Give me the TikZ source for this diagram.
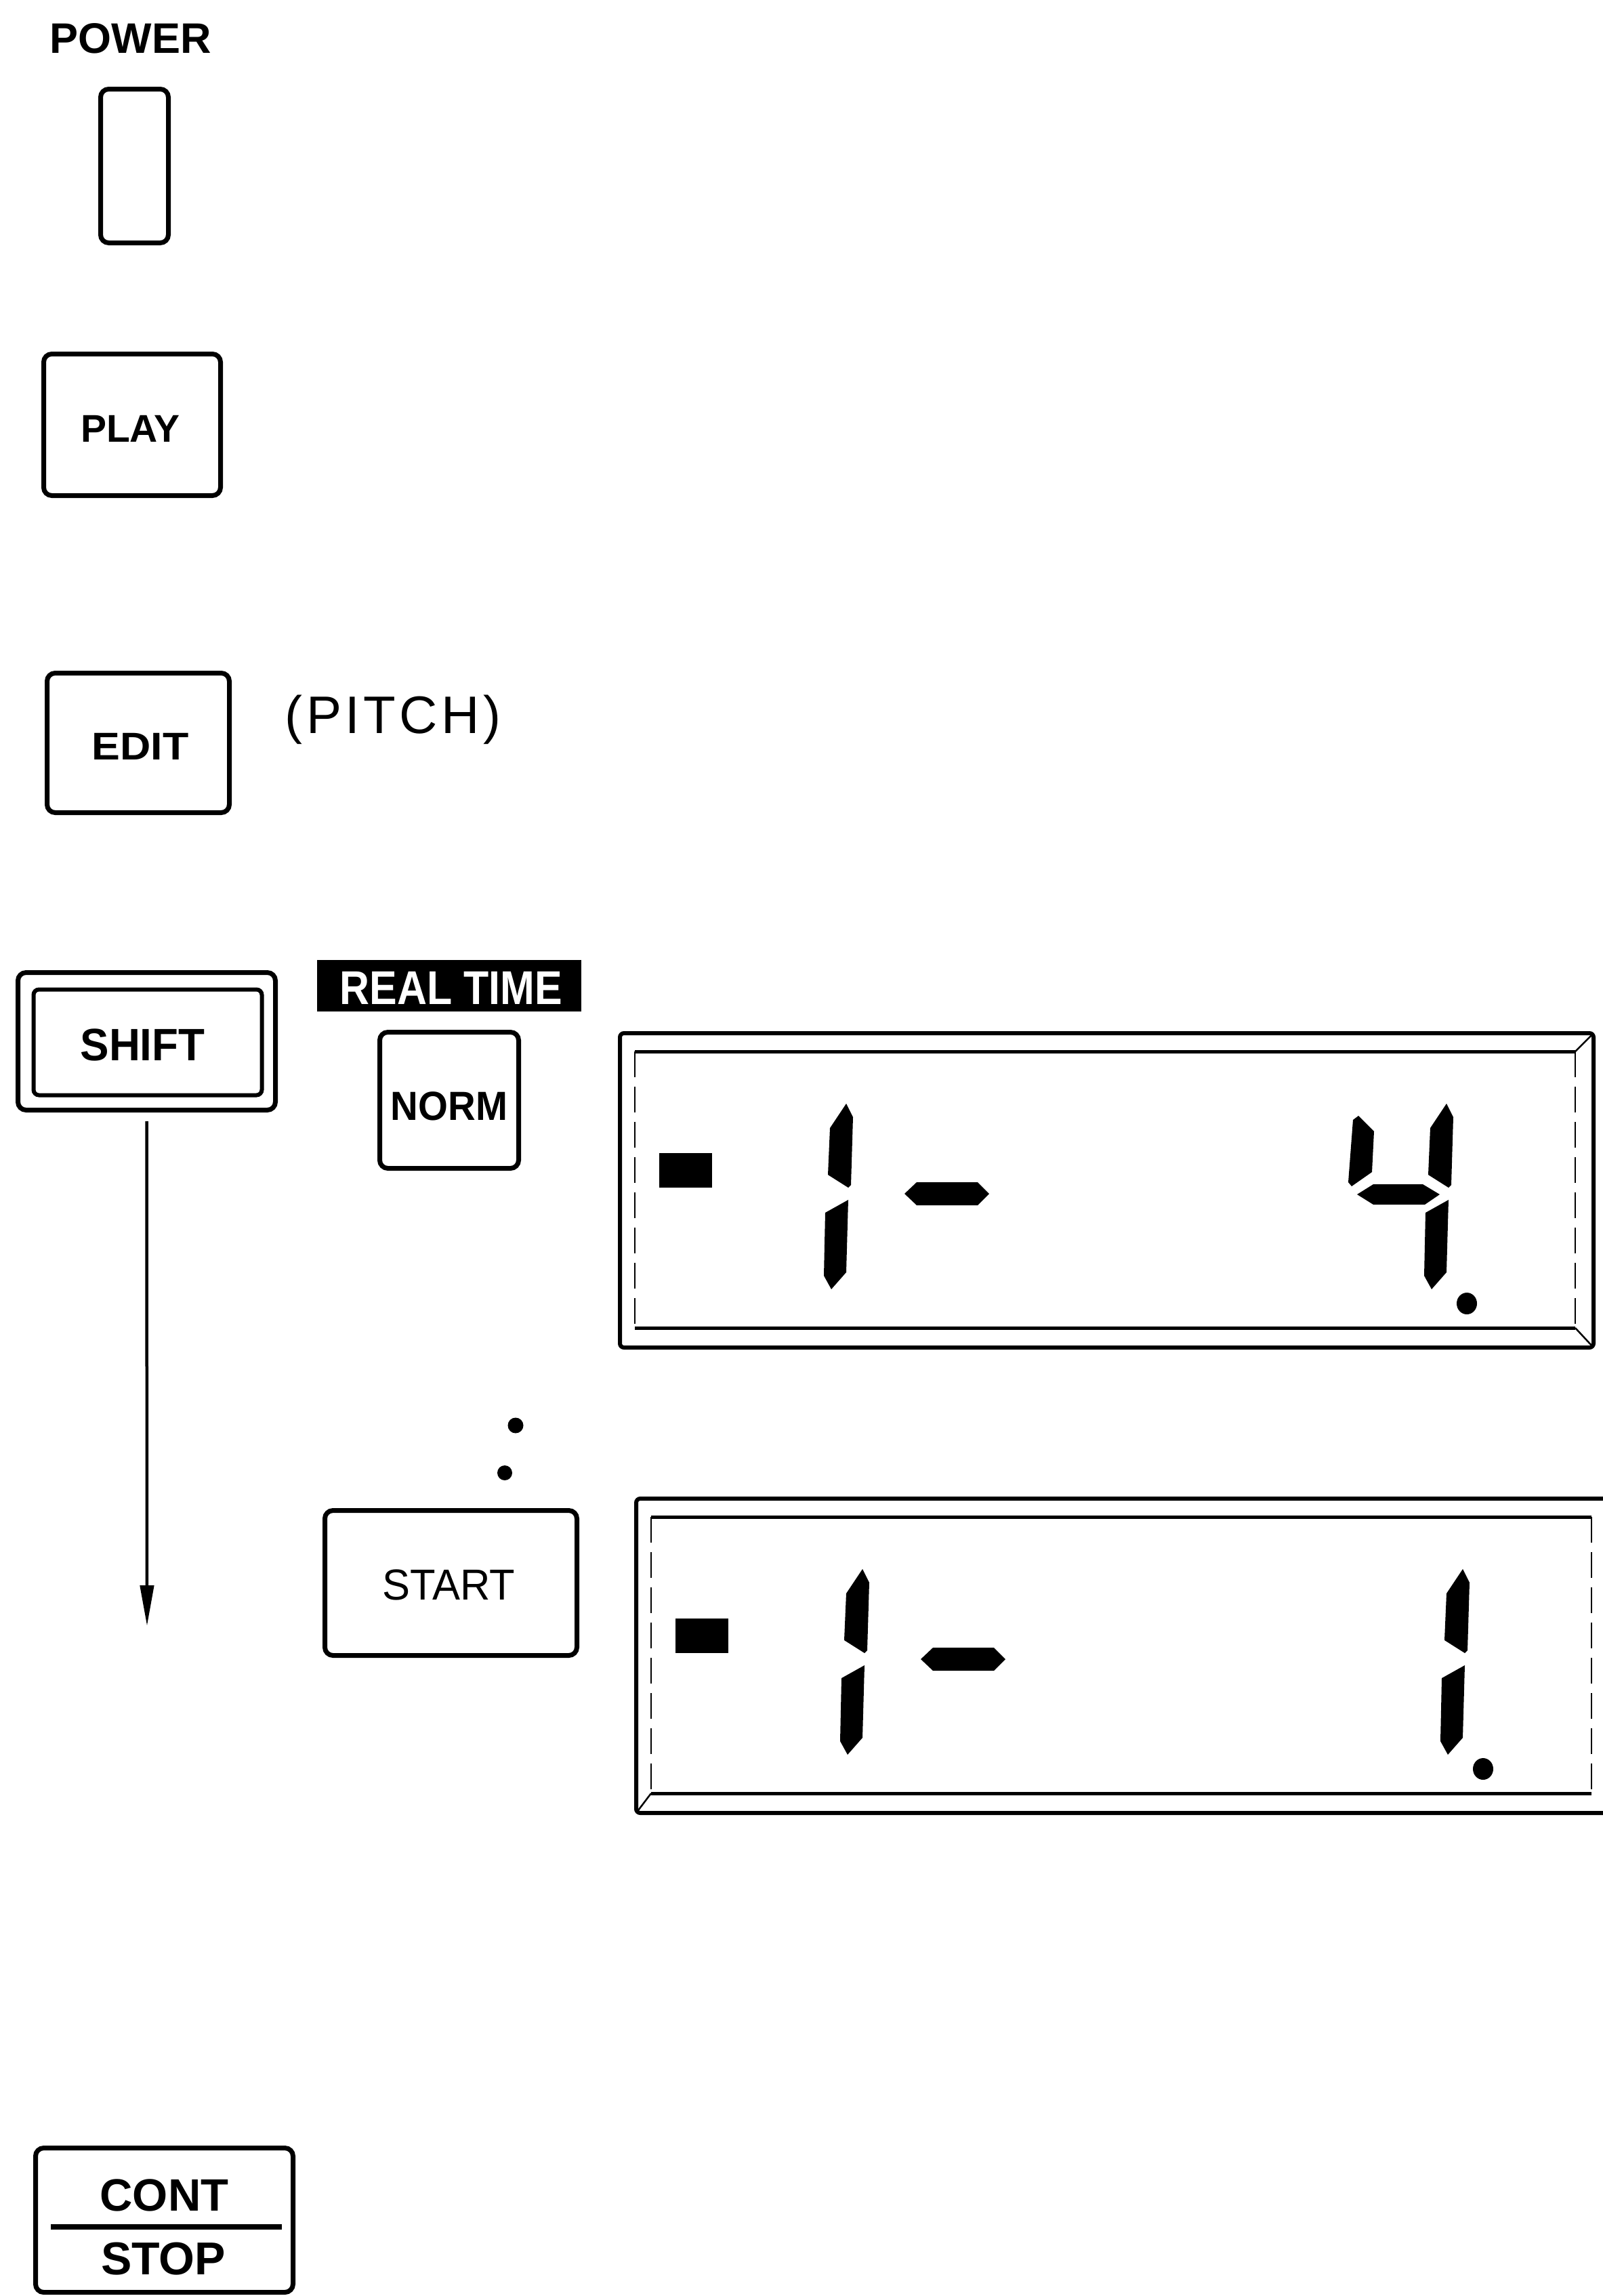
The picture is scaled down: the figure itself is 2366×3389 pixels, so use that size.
\documentclass[tikz,border=0pt]{standalone}
\usepackage{fontspec}
\usepackage{graphicx}
\setmainfont{Liberation Sans}
\newfontfamily\pitchfont{Liberation Sans}[LetterSpace=7]
\usetikzlibrary{arrows.meta}

\newcommand\lcdbase{%
  % frame
  \draw[line width=6pt, rounded corners=6pt] (2,2) rectangle (1439,466);
  \draw[line width=5pt] (24,29) -- (1412,29);
  \draw[line width=5pt] (24,437) -- (1412,437);
  \draw[line width=2.5pt, dash pattern=on 38pt off 14pt] (24,29) -- (24,437);
  \draw[line width=2.5pt, dash pattern=on 38pt off 14pt] (1412,29) -- (1412,437);
  % small block
  \fill (60,179) rectangle (138,230);
  % first digit "1"
  \fill (336,106) -- (346,126) -- (343,226) -- (339,230) -- (309,211) -- (312,142) -- cycle;
  \fill (339,248) -- (336,355) -- (314,380) -- (303,360) -- (305,267) -- cycle;
  % dash
  \fill (422,239) -- (440,222) -- (530,222) -- (547,239) -- (530,256) -- (440,256) -- cycle;
  % right digit: right-hand segments
  \fill (1222,106) -- (1232,126) -- (1229,226) -- (1225,230) -- (1195,211) -- (1198,142) -- cycle;
  \fill (1225,248) -- (1222,355) -- (1200,380) -- (1189,360) -- (1191,267) -- cycle;
  % decimal point
  \fill (1252,401) ellipse [x radius=15pt, y radius=16pt];
}

\begin{document}
\begin{tikzpicture}[x=1pt,y=-1pt,
  btn/.style={draw, line width=7pt, rounded corners=12pt, inner sep=0pt},
  lbl/.style={inner sep=0pt, anchor=base}]
\useasboundingbox (0,0) rectangle (2366,3389);

% POWER
\node[lbl, font=\fontsize{63}{70}\selectfont\bfseries] (powerlbl) at (192.5,78) {POWER};
\node[btn, minimum width=100pt, minimum height=227pt] (power) at (198.5,245) {};

% PLAY
\node[btn, minimum width=261pt, minimum height=209pt] (play) at (195,627) {};
\node[lbl, font=\fontsize{57}{64}\selectfont\bfseries] (playlbl) at (192.5,652) {PLAY};

% EDIT (PITCH)
\node[btn, minimum width=269pt, minimum height=206pt] (edit) at (204,1096.5) {};
\node[lbl, font=\fontsize{57}{64}\selectfont\bfseries] (editlbl) at (207,1121) {\scalebox{1.1}[1]{EDIT}};
\node[lbl, font=\fontsize{78}{86}\selectfont\pitchfont] (pitch) at (580,1082) {(PITCH)};

% SHIFT
\node[btn, minimum width=380pt, minimum height=203pt] (shifto) at (216.5,1537) {};
\node[draw, line width=6pt, rounded corners=8pt, inner sep=0pt,
      minimum width=337pt, minimum height=156pt] (shifti) at (218,1538.5) {};
\node[lbl, font=\fontsize{67}{74}\selectfont\bfseries] (shiftlbl) at (210.5,1565) {\scalebox{0.95}[1]{SHIFT}};

% REAL TIME / NORM
\node[fill=black, inner sep=0pt, minimum width=390pt, minimum height=76pt] (rtbar) at (663,1455) {};
\node[lbl, text=white, font=\fontsize{70}{78}\selectfont\bfseries] (rtlbl) at (666,1482) {\scalebox{0.87}[1]{REAL TIME}};
\node[btn, minimum width=205pt, minimum height=201pt] (norm) at (663,1624) {};
\node[lbl, font=\fontsize{60}{66}\selectfont\bfseries] (normlbl) at (663,1653) {\scalebox{0.94}[1]{NORM}};

% arrow down from SHIFT
\coordinate (arrowend) at (217,2400);
\draw[line width=4.5pt, shorten <=13pt, -{Triangle[length=60pt,width=20pt]}] (shifto.south) -- (arrowend);

% dots
\fill (761,2104) circle (11.5pt);
\fill (745,2174) circle (11pt);

% START
\node[btn, minimum width=372pt, minimum height=214pt] (start) at (665.5,2336.5) {};
\node[lbl, font=\fontsize{64}{70}\selectfont] (startlbl) at (662,2361) {\scalebox{0.96}[1]{START}};

% displays
\begin{scope}[shift={(913,1523)}]
  \lcdbase
  \draw[line width=2.5pt] (1439,2) -- (1412,29) (1439,466) -- (1412,437);
  \fill (1092,124) -- (1115,147) -- (1112,207) -- (1082,228) -- (1077,222) -- (1084,130) -- cycle;
  \fill (1090,240) -- (1114,225) -- (1187,225) -- (1212,240) -- (1190,255) -- (1114,255) -- cycle;
\end{scope}
\begin{scope}[shift={(937,2210)}]
  \lcdbase
  \draw[line width=2.5pt] (2,466) -- (24,437);
\end{scope}

% CONT / STOP
\node[btn, minimum width=380pt, minimum height=213pt] (contstop) at (242.5,3277) {};
\node[lbl, font=\fontsize{67}{74}\selectfont\bfseries] (contlbl) at (242.5,3263) {CONT};
\node[lbl, font=\fontsize{68}{74}\selectfont\bfseries] (stoplbl) at (241,3357) {STOP};
\coordinate (csl) at (75,3287);
\coordinate (csr) at (416,3287);
\draw[line width=8pt] (csl) -- (csr);
\end{tikzpicture}
\end{document}
